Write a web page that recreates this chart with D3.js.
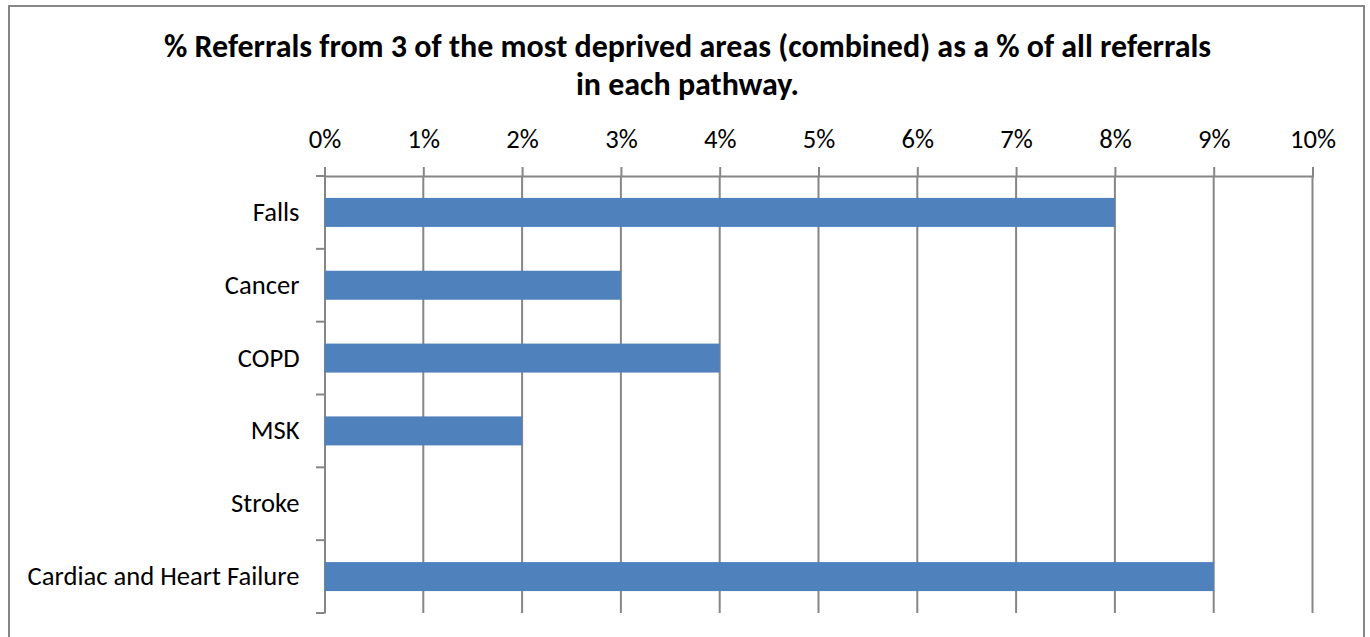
<!DOCTYPE html>
<html><head><meta charset="utf-8">
<script src="https://cdn.jsdelivr.net/npm/d3@7"></script>
<style>html,body{margin:0;padding:0;background:#fff;}svg{display:block;}</style>
</head><body>
<svg id="c" width="1370" height="637"></svg>
<script>
const categories = ["Falls","Cancer","COPD","MSK","Stroke","Cardiac and Heart Failure"];
const values = [0.08,0.03,0.04,0.02,0,0.09];
const tickValues = [0,0.01,0.02,0.03,0.04,0.05,0.06,0.07,0.08,0.09,0.10];
const titleLines = ["% Referrals from 3 of the most deprived areas (combined) as a % of all referrals","in each pathway."];

const svg = d3.select("#c");
const font = "Carlito, Lato, 'Open Sans', sans-serif";
svg.append("rect").attr("x",9).attr("y",6).attr("width",1355).attr("height",660)
  .attr("fill","#fff").attr("stroke","#868686").attr("stroke-width",2);

const x = d3.scaleLinear().domain([0,0.10]).range([324.5,1312.5]);
const yOuter = d3.scaleBand().domain(categories).range([176,613]);

// gridlines
svg.append("g").selectAll("line").data(tickValues.slice(1)).join("line")
  .attr("x1",d=>x(d)).attr("x2",d=>x(d)).attr("y1",176).attr("y2",613)
  .attr("stroke","#868686").attr("stroke-width",2);

// x axis top
const xa = svg.append("g").attr("transform","translate(0,176)")
  .call(d3.axisTop(x).tickValues(tickValues).tickFormat(d3.format(".0%")).tickSize(9).tickPadding(19));
xa.select(".domain").attr("stroke","#868686").attr("stroke-width",2);
xa.selectAll(".tick line").attr("stroke","#868686").attr("stroke-width",2);
xa.selectAll("text").attr("font-family",font).attr("font-size",26.6).attr("fill","#000");

// y axis
const ya = svg.append("g").attr("transform","translate(324.5,0)")
  .call(d3.axisLeft(yOuter).tickSize(0).tickPadding(25));
ya.select(".domain").attr("stroke","#868686").attr("stroke-width",2);
ya.selectAll("text").attr("font-family",font).attr("font-size",26.6).attr("fill","#000");
// category boundary ticks
const bounds = d3.range(categories.length+1).map(i=>176 + i*yOuter.step());
svg.append("g").selectAll("line").data(bounds).join("line")
  .attr("x1",316).attr("x2",324.5).attr("y1",d=>d).attr("y2",d=>d)
  .attr("stroke","#868686").attr("stroke-width",2);

// bars
svg.append("g").selectAll("rect").data(categories).join("rect")
  .attr("x",x(0)).attr("y",(d)=>yOuter(d)+yOuter.bandwidth()/2-14.5)
  .attr("width",(d,i)=>x(values[i])-x(0)).attr("height",29)
  .attr("fill","#4F81BD");

// title
svg.append("g").selectAll("text").data(titleLines).join("text")
  .attr("x",687.5).attr("y",(d,i)=>57+i*37.5).attr("text-anchor","middle")
  .attr("font-family",font).attr("font-size",32).attr("font-weight","bold").attr("fill","#000")
  .text(d=>d);
</script>
</body></html>
